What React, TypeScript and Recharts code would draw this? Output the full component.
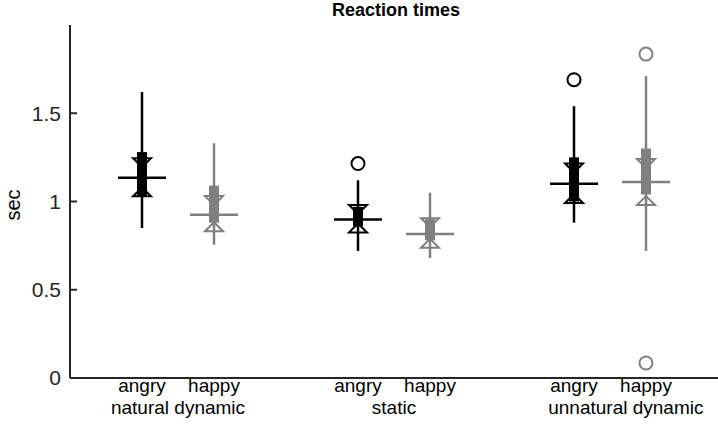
import React from "react";
import { ComposedChart, Scatter, ErrorBar, XAxis, YAxis, Label } from "recharts";

// box positions on the x axis and which emotion each one is
const positions = [1, 2, 4, 5, 7, 8];
const emotions = ["angry", "happy", "angry", "happy", "angry", "happy"];
const groupCenters = [1.5, 4.5, 7.72];
const groupLabels = ["natural dynamic", "static", "unnatural dynamic"];

// box statistics (sec)
const whiskerHigh = [1.62, 1.33, 1.12, 1.05, 1.54, 1.71];
const q3 = [1.28, 1.09, 0.97, 0.9, 1.25, 1.3];
const notchHigh = [1.22, 1.005, 0.955, 0.88, 1.19, 1.215];
const medians = [1.135, 0.925, 0.898, 0.816, 1.1, 1.11];
const notchLow = [1.055, 0.857, 0.85, 0.763, 1.017, 1.005];
const q1 = [1.03, 0.88, 0.86, 0.78, 1.0, 1.04];
const whiskerLow = [0.85, 0.755, 0.72, 0.68, 0.88, 0.72];

// outliers
const outlierX = [4, 7, 8, 8];
const outlierY = [1.215, 1.69, 1.835, 0.085];
const outlierEmotion = ["angry", "angry", "happy", "happy"];

const yTicks = [0, 0.5, 1, 1.5];

const colors: Record<string, string> = { angry: "#000000", happy: "#808080" };
const axisColor = "#262626";
const font = "'Liberation Sans', Arial, sans-serif";

function boxRows(emotion: string) {
  return positions
    .map((x, i) => ({
      x,
      emotion: emotions[i],
      median: medians[i],
      whisker: [medians[i] - whiskerLow[i], whiskerHigh[i] - medians[i]],
      box: [medians[i] - q1[i], q3[i] - medians[i]],
      notchHigh: notchHigh[i],
      notchLow: notchLow[i],
    }))
    .filter((r) => r.emotion === emotion);
}

function outlierRows(emotion: string) {
  return outlierX
    .map((x, i) => ({ x, y: outlierY[i], emotion: outlierEmotion[i] }))
    .filter((r) => r.emotion === emotion);
}

const medianShape = (color: string) => (p: any) => (
  <line x1={p.cx - 24} x2={p.cx + 24} y1={p.cy} y2={p.cy} stroke={color} strokeWidth={2.5} />
);

const notchDown = (color: string) => (p: any) => (
  <polygon
    points={`${p.cx - 9},${p.cy - 4.5} ${p.cx + 9},${p.cy - 4.5} ${p.cx},${p.cy + 4.5}`}
    fill="none"
    stroke={color}
    strokeWidth={2}
  />
);

const notchUp = (color: string) => (p: any) => (
  <polygon
    points={`${p.cx - 9},${p.cy + 4.5} ${p.cx + 9},${p.cy + 4.5} ${p.cx},${p.cy - 4.5}`}
    fill="none"
    stroke={color}
    strokeWidth={2}
  />
);

const circleShape = (color: string) => (p: any) => (
  <circle cx={p.cx} cy={p.cy} r={6.5} fill="none" stroke={color} strokeWidth={2} />
);

export default function App() {
  const series: React.ReactNode[] = [];
  ["angry", "happy"].forEach((emo) => {
    const c = colors[emo];
    const rows = boxRows(emo);
    series.push(
      <Scatter key={emo + "-box"} data={rows} dataKey="median" shape={medianShape(c)} isAnimationActive={false}>
        <ErrorBar dataKey="whisker" direction="y" width={0} stroke={c} strokeWidth={2.5} isAnimationActive={false} />
        <ErrorBar dataKey="box" direction="y" width={0} stroke={c} strokeWidth={10} isAnimationActive={false} />
      </Scatter>,
      <Scatter key={emo + "-nh"} data={rows} dataKey="notchHigh" shape={notchDown(c)} isAnimationActive={false} />,
      <Scatter key={emo + "-nl"} data={rows} dataKey="notchLow" shape={notchUp(c)} isAnimationActive={false} />,
      <Scatter key={emo + "-out"} data={outlierRows(emo)} dataKey="y" shape={circleShape(c)} isAnimationActive={false} />
    );
  });

  return (
    <div style={{ position: "absolute", left: 0, top: 0, width: 718, height: 446 }}>
      <div
        style={{
          position: "absolute",
          left: 396,
          top: 0,
          transform: "translateX(-50%)",
          fontFamily: font,
          fontWeight: "bold",
          fontSize: 18,
          lineHeight: "20px",
          color: "#000",
          whiteSpace: "nowrap",
        }}
      >
        Reaction times
      </div>
      <ComposedChart width={718} height={446} margin={{ top: 25, right: 0, bottom: 0, left: 0 }}>
        <XAxis
          xAxisId={0}
          type="number"
          dataKey="x"
          domain={[0, 9]}
          ticks={positions}
          tickFormatter={(v: number) => emotions[positions.indexOf(v)] ?? ""}
          height={20}
          tickSize={0}
          tickLine={false}
          tickMargin={1}
          axisLine={{ stroke: axisColor, strokeWidth: 2 }}
          tick={{ fill: "#000", fontSize: 19, fontFamily: font }}
          interval={0}
        />
        <XAxis
          xAxisId="group"
          type="number"
          dataKey="x"
          domain={[0, 9]}
          ticks={groupCenters}
          tickFormatter={(v: number) => groupLabels[groupCenters.indexOf(v)] ?? ""}
          height={48}
          tickSize={0}
          tickLine={false}
          tickMargin={3}
          axisLine={false}
          tick={{ fill: "#000", fontSize: 19, fontFamily: font }}
          interval={0}
          allowDataOverflow
        />
        <YAxis
          type="number"
          domain={[0, 2]}
          ticks={yTicks}
          width={70}
          tickSize={-7}
          tickMargin={16}
          axisLine={{ stroke: axisColor, strokeWidth: 2 }}
          tickLine={{ stroke: axisColor, strokeWidth: 2 }}
          tick={{ fill: axisColor, fontSize: 21, fontFamily: font }}
          tickFormatter={(v: number) => String(v)}
          allowDataOverflow
        >
          <Label
            content={() => (
              <text
                x={20}
                y={205}
                transform="rotate(-90, 20, 205)"
                textAnchor="middle"
                fontSize={20}
                fontFamily={font}
                fill="#000"
              >
                sec
              </text>
            )}
          />
        </YAxis>
        {series}
      </ComposedChart>
    </div>
  );
}
